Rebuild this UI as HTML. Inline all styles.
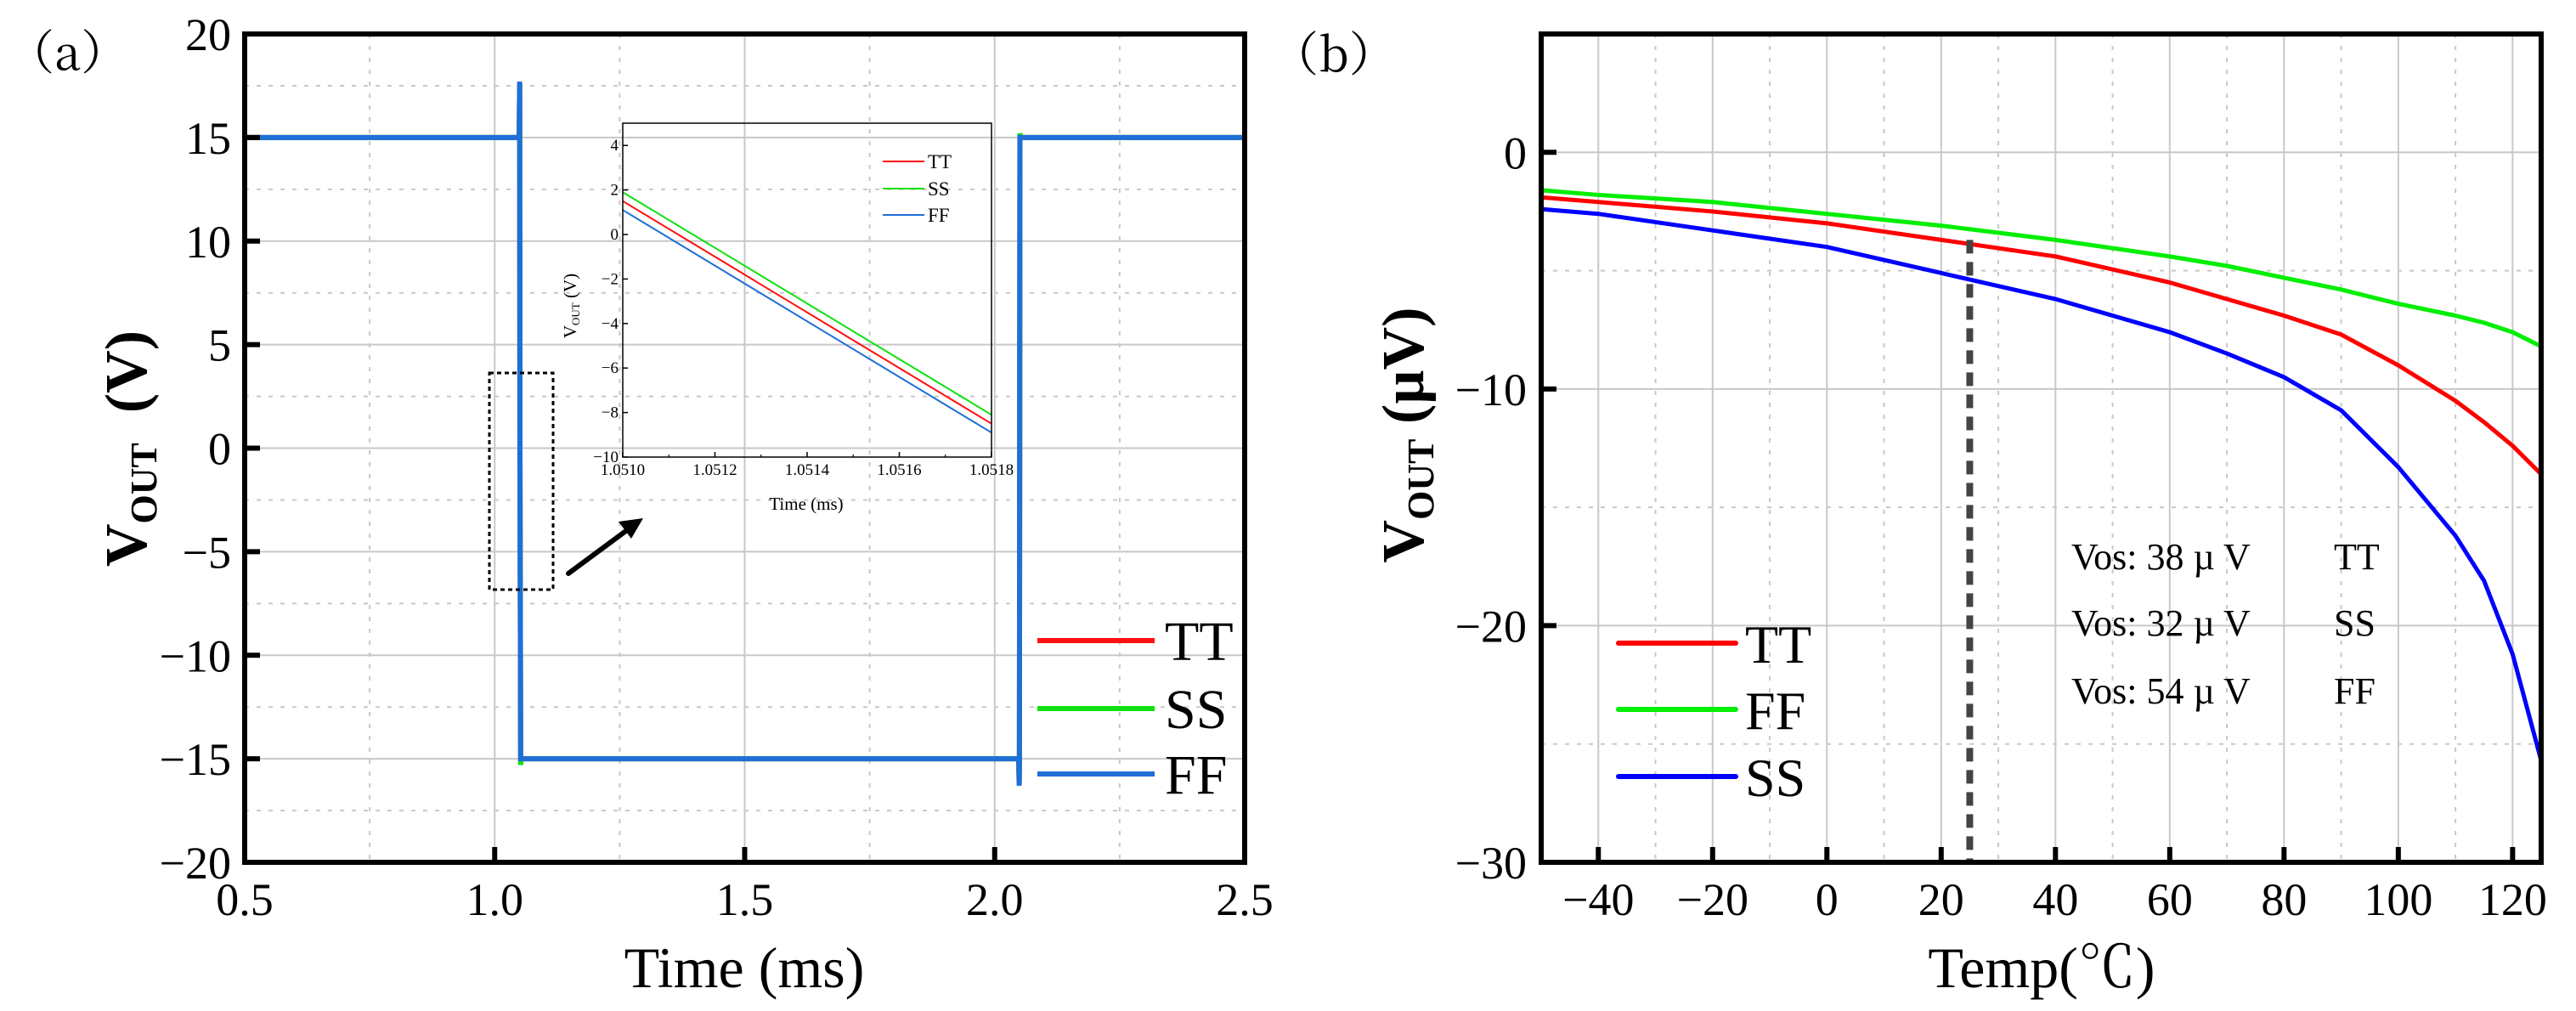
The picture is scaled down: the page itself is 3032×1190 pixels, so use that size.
<!DOCTYPE html>
<html><head><meta charset="utf-8"><style>
html,body{margin:0;padding:0;background:#fff;}
svg{display:block;font-family:"Liberation Serif","Noto Serif CJK SC",serif;}
</style></head><body>
<svg id="fig" width="3032" height="1190" viewBox="0 0 3032 1190" xmlns="http://www.w3.org/2000/svg"></svg>
<script>
// ---- Panel (a) data ----
const aXTicks = [0.5, 1.0, 1.5, 2.0, 2.5];
const aXTickLabels = ["0.5", "1.0", "1.5", "2.0", "2.5"];
const aYTicks = [-20, -15, -10, -5, 0, 5, 10, 15, 20];
const aYTickLabels = ["\u221220", "\u221215", "\u221210", "\u22125", "0", "5", "10", "15", "20"];
const aTime = [0.5, 1.049, 1.05, 1.0505, 1.052, 1.053, 2.048, 2.049, 2.0495, 2.0505, 2.052, 2.5];
const aTT = [15, 15, 17.6, 0, -15, -15, -15, -16.2, -15, 15, 15, 15];
const aSS = [15, 15, 17.6, 0.5, -15.3, -15, -15, -16.2, -15, 15.2, 15, 15];
const aFF = [15, 15, 17.7, -0.5, -15, -15, -15, -16.3, -15, 15, 15, 15];
// inset
const insetXTicks = [1.0510, 1.0512, 1.0514, 1.0516, 1.0518];
const insetXTickLabels = ["1.0510", "1.0512", "1.0514", "1.0516", "1.0518"];
const insetYTicks = [-10, -8, -6, -4, -2, 0, 2, 4];
const insetYTickLabels = ["\u221210", "\u22128", "\u22126", "\u22124", "\u22122", "0", "2", "4"];
const insetTime = [1.0510, 1.0518];
const insetTT = [1.5, -8.5];
const insetSS = [1.9, -8.1];
const insetFF = [1.1, -8.9];
// ---- Panel (b) data ----
const bXTicks = [-40, -20, 0, 20, 40, 60, 80, 100, 120];
const bXTickLabels = ["\u221240", "\u221220", "0", "20", "40", "60", "80", "100", "120"];
const bYTicks = [-30, -20, -10, 0];
const bYTickLabels = ["\u221230", "\u221220", "\u221210", "0"];
const bTemp = [-50, -40, -20, 0, 20, 40, 60, 70, 80, 90, 100, 110, 115, 120, 125];
const bTT = [-1.9, -2.1, -2.5, -3.0, -3.7, -4.4, -5.5, -6.2, -6.9, -7.7, -9.0, -10.5, -11.4, -12.4, -13.6];
const bFF = [-1.6, -1.8, -2.1, -2.6, -3.1, -3.7, -4.4, -4.8, -5.3, -5.8, -6.4, -6.9, -7.2, -7.6, -8.2];
const bSS = [-2.4, -2.6, -3.3, -4.0, -5.1, -6.2, -7.6, -8.5, -9.5, -10.9, -13.3, -16.2, -18.1, -21.2, -25.7];
const bMarkerTemp = 25;

const NS = "http://www.w3.org/2000/svg";
const svg = document.getElementById('fig');
function mk(tag, attrs, parent, text) {
  const e = document.createElementNS(NS, tag);
  for (const k in attrs) e.setAttribute(k, attrs[k]);
  if (text !== undefined) e.textContent = text;
  (parent || svg).appendChild(e);
  return e;
}
function lin(d0, d1, r0, r1) { return v => r0 + (v - d0) * (r1 - r0) / (d1 - d0); }
function pathD(xs, ys, sx, sy) { return xs.map((x, i) => (i ? 'L' : 'M') + sx(x).toFixed(2) + ',' + sy(ys[i]).toFixed(2)).join(''); }

// ================= Panel A =================
const A = {l: 288, r: 1465, t: 40, b: 1015};
const ax = lin(0.5, 2.5, A.l, A.r), ay = lin(-20, 20, A.b, A.t);
const ga = mk('g', {});
 
// grid
const gaGrid = mk('g', {}, ga);
 
for (let v = 0.75; v < 2.5; v += 0.5) mk('line', {x1: ax(v), x2: ax(v), y1: A.t, y2: A.b, stroke: '#c8c8c8', 'stroke-width': 2, 'stroke-dasharray': '5,9'}, gaGrid);
for (let v = 1.0; v < 2.5; v += 0.5) mk('line', {x1: ax(v), x2: ax(v), y1: A.t, y2: A.b, stroke: '#c8c8c8', 'stroke-width': 2}, gaGrid);
for (let v = -17.5; v < 20; v += 5) mk('line', {x1: A.l, x2: A.r, y1: ay(v), y2: ay(v), stroke: '#c8c8c8', 'stroke-width': 2, 'stroke-dasharray': '5,9'}, gaGrid);
for (let v = -15; v < 20; v += 5) mk('line', {x1: A.l, x2: A.r, y1: ay(v), y2: ay(v), stroke: '#c8c8c8', 'stroke-width': 2}, gaGrid);
// series
const aCols = {TT: '#ff1010', SS: '#10e010', FF: '#1f6fd8'};
[['TT', aTT], ['SS', aSS], ['FF', aFF]].forEach(([n, ys]) => {
  const p = mk('path', {d: pathD(aTime, ys, ax, ay), fill: 'none', stroke: aCols[n], 'stroke-width': 6, 'stroke-linejoin': 'miter'}, ga);
  
  
});
// axes frame
const fa = mk('rect', {x: A.l, y: A.t, width: A.r - A.l, height: A.b - A.t, fill: 'none', stroke: '#000', 'stroke-width': 6}, ga);
 
// ticks & labels
aXTicks.forEach((v, i) => {
  mk('line', {x1: ax(v), x2: ax(v), y1: A.b, y2: A.b - 18, stroke: '#000', 'stroke-width': 6}, ga);
  const t = mk('text', {x: ax(v), y: 1077, 'font-size': 54, 'text-anchor': 'middle'}, ga, aXTickLabels[i]);
   
});
aYTicks.forEach((v, i) => {
  mk('line', {x1: A.l, x2: A.l + 18, y1: ay(v), y2: ay(v), stroke: '#000', 'stroke-width': 6}, ga);
  const t = mk('text', {x: 272, y: ay(v) + 19, 'font-size': 54, 'text-anchor': 'end'}, ga, aYTickLabels[i]);
   
});
// dotted zoom box + arrow
const zb = mk('rect', {x: 576, y: 439, width: 75, height: 255, fill: 'none', stroke: '#000', 'stroke-width': 3, 'stroke-dasharray': '5,4'}, ga);
 
const ar = mk('g', {}, ga);
 
mk('line', {x1: 669, y1: 675, x2: 738, y2: 624, stroke: '#000', 'stroke-width': 6, 'stroke-linecap': 'round'}, ar);
mk('polygon', {points: '757,610 728,614 743,634', fill: '#000'}, ar);
// inset
const I = {l: 733, r: 1167, t: 145, b: 538};
const ix = lin(1.0510, 1.0518, I.l, I.r), iy = lin(-10, 5, I.b, I.t);
const gi = mk('g', {}, ga);
 
[['TT', insetTT], ['SS', insetSS], ['FF', insetFF]].forEach(([n, ys]) => {
  const p = mk('path', {d: pathD(insetTime, ys, ix, iy), fill: 'none', stroke: aCols[n], 'stroke-width': 2}, gi);
  
  
});
mk('rect', {x: I.l, y: I.t, width: I.r - I.l, height: I.b - I.t, fill: 'none', stroke: '#000', 'stroke-width': 1.5}, gi);
insetXTicks.forEach((v, i) => {
  mk('line', {x1: ix(v), x2: ix(v), y1: I.b, y2: I.b - 6, stroke: '#000', 'stroke-width': 1.5}, gi);
  if (i < insetXTicks.length - 1) mk('line', {x1: ix(v + 0.0001), x2: ix(v + 0.0001), y1: I.b, y2: I.b - 3, stroke: '#000', 'stroke-width': 1.2}, gi);
  mk('text', {x: ix(v), y: I.b + 21, 'font-size': 19, 'text-anchor': 'middle'}, gi, insetXTickLabels[i]);
});
insetYTicks.forEach((v, i) => {
  mk('line', {x1: I.l, x2: I.l + 6, y1: iy(v), y2: iy(v), stroke: '#000', 'stroke-width': 1.5}, gi);
  mk('text', {x: I.l - 5, y: iy(v) + 6, 'font-size': 19, 'text-anchor': 'end'}, gi, insetYTickLabels[i]);
});
const ixl = mk('text', {x: (I.l + I.r) / 2 - 1, y: 600, 'font-size': 21, 'text-anchor': 'middle'}, gi, 'Time (ms)');
 
const iyl = mk('text', {transform: 'translate(678,360) rotate(-90)', 'font-size': 21, 'text-anchor': 'middle'}, gi);
 
mk('tspan', {}, iyl, 'V');
mk('tspan', {'font-size': 13, dy: 4}, iyl, 'OUT');
mk('tspan', {dy: -4}, iyl, '  (V)');
const ileg = mk('g', {}, gi);
 
[['TT', 190], ['SS', 222], ['FF', 253]].forEach(([n, y]) => {
  mk('line', {x1: 1039, x2: 1088, y1: y, y2: y, stroke: aCols[n], 'stroke-width': 2}, ileg);
  mk('text', {x: 1092, y: y + 8, 'font-size': 23}, ileg, n);
});
// legend A
const lega = mk('g', {}, ga);
 
[['TT', 754], ['SS', 834], ['FF', 911]].forEach(([n, y]) => {
  const g = mk('g', {}, lega);
   
  mk('line', {x1: 1221, x2: 1359, y1: y, y2: y, stroke: aCols[n], 'stroke-width': 6}, g);
  mk('text', {x: 1371, y: y + 23, 'font-size': 66}, g, n);
});
// titles A
const axt = mk('text', {x: 876, y: 1162, 'font-size': 68, 'text-anchor': 'middle'}, ga, 'Time (ms)');
 
const ayt = mk('text', {transform: 'translate(172,528) rotate(-90)', 'font-size': 70, 'font-weight': 'bold', 'text-anchor': 'middle'}, ga);
 
mk('tspan', {}, ayt, 'V');
mk('tspan', {'font-size': 44, dy: 12}, ayt, 'OUT');
mk('tspan', {dy: -12}, ayt, '\u00a0 (V)');
const pa = mk('text', {x: 8, y: 82, 'font-size': 56, 'font-family': '"Noto Serif CJK SC","Liberation Serif",serif'}, ga, '（a）');
 

// ================= Panel B =================
const B = {l: 1814, r: 2991, t: 40, b: 1015};
const bx = lin(-50, 125, B.l, B.r), by = lin(-30, 5, B.b, B.t);
const gb = mk('g', {});
 
const gbGrid = mk('g', {}, gb);
 
for (let v = -30; v < 125; v += 20) mk('line', {x1: bx(v), x2: bx(v), y1: B.t, y2: B.b, stroke: '#c8c8c8', 'stroke-width': 2, 'stroke-dasharray': '5,9'}, gbGrid);
bXTicks.forEach(v => mk('line', {x1: bx(v), x2: bx(v), y1: B.t, y2: B.b, stroke: '#c8c8c8', 'stroke-width': 2}, gbGrid));
for (let v = -25; v < 5; v += 10) mk('line', {x1: B.l, x2: B.r, y1: by(v), y2: by(v), stroke: '#c8c8c8', 'stroke-width': 2, 'stroke-dasharray': '5,9'}, gbGrid);
bYTicks.forEach(v => mk('line', {x1: B.l, x2: B.r, y1: by(v), y2: by(v), stroke: '#c8c8c8', 'stroke-width': 2}, gbGrid));
const bCols = {TT: '#ff0000', FF: '#00ee00', SS: '#0000ff'};
[['FF', bFF], ['TT', bTT], ['SS', bSS]].forEach(([n, ys]) => {
  const p = mk('path', {d: pathD(bTemp, ys, bx, by), fill: 'none', stroke: bCols[n], 'stroke-width': 5, 'stroke-linejoin': 'round'}, gb);
  
  
});
const mkl = mk('line', {x1: bx(bMarkerTemp), x2: bx(bMarkerTemp), y1: by(-3.7), y2: B.b, stroke: '#444', 'stroke-width': 8, 'stroke-dasharray': '16,10'}, gb);
 
const fb = mk('rect', {x: B.l, y: B.t, width: B.r - B.l, height: B.b - B.t, fill: 'none', stroke: '#000', 'stroke-width': 6}, gb);
 
bXTicks.forEach((v, i) => {
  mk('line', {x1: bx(v), x2: bx(v), y1: B.b, y2: B.b - 18, stroke: '#000', 'stroke-width': 6}, gb);
  const t = mk('text', {x: bx(v), y: 1077, 'font-size': 54, 'text-anchor': 'middle'}, gb, bXTickLabels[i]);
   
});
bYTicks.forEach((v, i) => {
  mk('line', {x1: B.l, x2: B.l + 18, y1: by(v), y2: by(v), stroke: '#000', 'stroke-width': 6}, gb);
  const t = mk('text', {x: 1797, y: by(v) + 19, 'font-size': 54, 'text-anchor': 'end'}, gb, bYTickLabels[i]);
   
});
const legb = mk('g', {}, gb);
 
[['TT', 757], ['FF', 835], ['SS', 914]].forEach(([n, y]) => {
  const g = mk('g', {}, legb);
   
  mk('line', {x1: 1905, x2: 2043, y1: y, y2: y, stroke: bCols[n], 'stroke-width': 6, 'stroke-linecap': 'round'}, g);
  mk('text', {x: 2054, y: y + 23, 'font-size': 64}, g, n);
});
const ann = mk('g', {}, gb);
 
[['Vos: 38 \u00b5 V', 'TT', 670], ['Vos: 32 \u00b5 V', 'SS', 748], ['Vos: 54 \u00b5 V', 'FF', 828]].forEach(([a, n, y]) => {
  mk('text', {x: 2438, y: y, 'font-size': 44}, ann, a);
  mk('text', {x: 2747, y: y, 'font-size': 44}, ann, n);
});
const bxt = mk('text', {x: 2403, y: 1162, 'font-size': 68, 'text-anchor': 'middle'}, gb, 'Temp(\u2103)');
 
const byt = mk('text', {transform: 'translate(1675,512) rotate(-90)', 'font-size': 70, 'font-weight': 'bold', 'text-anchor': 'middle'}, gb);
 
mk('tspan', {}, byt, 'V');
mk('tspan', {'font-size': 44, dy: 12}, byt, 'OUT');
mk('tspan', {dy: -12}, byt, ' (\u00b5V)');
const pb = mk('text', {x: 1496, y: 84, 'font-size': 56, 'font-family': '"Noto Serif CJK SC","Liberation Serif",serif'}, gb, '（b）');
 
</script>
</body></html>
